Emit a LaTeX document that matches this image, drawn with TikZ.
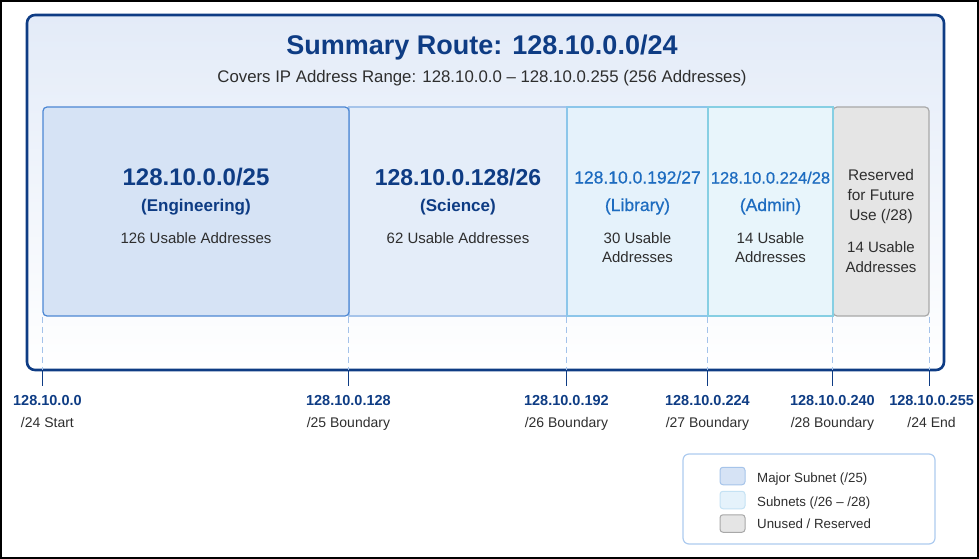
\documentclass[tikz,border=0pt]{standalone}
\usepackage{fontspec}
\setmainfont{Liberation Sans}
\newfontface\medfont[FakeBold=0.6]{Liberation Sans}
\usetikzlibrary{positioning}

\definecolor{navy}{HTML}{0E3C84}
\definecolor{sumtop}{HTML}{E3EBF8}
\definecolor{engfill}{HTML}{D6E3F5}
\definecolor{engline}{HTML}{4C87D4}
\definecolor{scifill}{HTML}{E4EDF9}
\definecolor{sciline}{HTML}{A6C4EA}
\definecolor{libfill}{HTML}{E5F2FB}
\definecolor{libline}{HTML}{8CC6EA}
\definecolor{admfill}{HTML}{E8F5FB}
\definecolor{admline}{HTML}{86CFE3}
\definecolor{resfill}{HTML}{E5E5E5}
\definecolor{resline}{HTML}{A8A8A8}
\definecolor{dashc}{HTML}{A3C2EA}
\definecolor{txtgray}{HTML}{2E2E2E}
\definecolor{libblue}{HTML}{1D6CC0}
\definecolor{legline}{HTML}{ADCBEF}

\tikzset{
  sumbox/.style={draw=navy, line width=2.6pt, rounded corners=8pt, top color=sumtop, bottom color=white, inner sep=0pt},
  blk/.style={inner sep=0pt, minimum height=209pt, line width=1.2pt},
  txt/.style={inner sep=0pt, anchor=base, align=center},
  headbig/.style={txt, text=navy, font=\bfseries\fontsize{#1}{#1}\selectfont},
  headsm/.style={txt, text=libblue, font=\medfont\fontsize{#1}{#1}\selectfont},
  usable/.style={txt, text=txtgray, font=\fontsize{15}{15}\selectfont},
  bdash/.style={dashc, line width=1pt, dash pattern=on 6pt off 4pt},
  tick/.style={navy, line width=1.6pt},
  addr/.style={txt, text=navy, font=\bfseries\fontsize{14.5}{14.5}\selectfont},
  bnd/.style={txt, text=txtgray, font=\fontsize{14}{14}\selectfont},
  swatch/.style={rounded corners=3pt, line width=1pt, minimum width=25pt, minimum height=17.5pt, inner sep=0pt},
  legtxt/.style={inner sep=0pt, anchor=base west, text=txtgray, font=\fontsize{13.3}{13.3}\selectfont}
}

\begin{document}
\begin{tikzpicture}[x=1pt, y=-1pt]
  \useasboundingbox (0,0) rectangle (979,559);
  \draw[black, line width=2pt] (1,1) rectangle (978,558);

  % summary route frame
  \node[sumbox, minimum width=917pt, minimum height=355pt] (sum) at (485.5,192.5) {};
  \node[txt, text=navy, font=\bfseries\fontsize{27}{27}\selectfont] (ttl) at (482,55) {Summary Route: 128.10.0.0/24};
  \node[txt, text=txtgray, font=\fontsize{16.8}{16.8}\selectfont] (rng) at (482,83) {Covers IP Address Range: 128.10.0.0 – 128.10.0.255 (256 Addresses)};

  % subnet blocks
  \node[blk, fill=scifill, draw=sciline, minimum width=218pt] (sci) at (458,211.5) {};
  \node[blk, fill=libfill, draw=libline, minimum width=141pt] (lib) at (637.5,211.5) {};
  \node[blk, fill=resfill, draw=resline, rounded corners=4pt, minimum width=96pt] (res) at (881,211.5) {};
  \node[blk, fill=admfill, draw=admline, minimum width=125pt] (adm) at (770.5,211.5) {};
  \node[blk, fill=engfill, draw=engline, rounded corners=4pt, minimum width=306pt] (eng) at (196,211.5) {};

  \node[headbig=24] (engh) at (eng.center |- 0,185) {128.10.0.0/25};
  \node[headbig=17] (engp) at (eng.center |- 0,211) {(Engineering)};
  \node[usable] (engu) at (eng.center |- 0,243) {126 Usable Addresses};

  \node[headbig=23] (scih) at (sci.center |- 0,185) {128.10.0.128/26};
  \node[headbig=17] (scip) at (sci.center |- 0,211) {(Science)};
  \node[usable] (sciu) at (sci.center |- 0,243) {62 Usable Addresses};

  \node[headsm=17.5] (libh) at (lib.center |- 0,183.5) {128.10.0.192/27};
  \node[headsm=17.5] (libp) at (lib.center |- 0,211) {(Library)};
  \node[usable] (libu) at (lib.center |- 0,243) {30 Usable};
  \node[usable] (liba) at (lib.center |- 0,262.7) {Addresses};

  \node[headsm=16.5] (admh) at (adm.center |- 0,183.5) {128.10.0.224/28};
  \node[headsm=17.5] (admp) at (adm.center |- 0,211) {(Admin)};
  \node[usable] (admu) at (adm.center |- 0,243) {14 Usable};
  \node[usable] (adma) at (adm.center |- 0,262.7) {Addresses};

  \node[usable, font=\fontsize{15.4}{15.4}\selectfont] (resr) at (res.center |- 0,180) {Reserved};
  \node[usable, font=\fontsize{15.4}{15.4}\selectfont] (resf) at (res.center |- 0,200) {for Future};
  \node[usable, font=\fontsize{15.4}{15.4}\selectfont] (resw) at (res.center |- 0,220) {Use (/28)};
  \node[usable] (resu) at (res.center |- 0,252.7) {14 Usable};
  \node[usable] (resa) at (res.center |- 0,272.7) {Addresses};

  % boundaries
  \foreach \pt/\nm/\dx/\ad/\lb in {eng.south west/b0/5/128.10.0.0/{/24 Start},
      sci.south west/b1/0/128.10.0.128/{/25 Boundary},
      lib.south west/b2/0/128.10.0.192/{/26 Boundary},
      adm.south west/b3/0/128.10.0.224/{/27 Boundary},
      res.south west/b4/0/128.10.0.240/{/28 Boundary},
      res.south east/b5/2/128.10.0.255/{/24 End}}
  {
    \draw[bdash] (\pt) -- ([yshift=1.3pt]\pt |- sum.south) coordinate (\nm);
    \draw[tick] (\pt |- sum.south) -- ++(0,15) coordinate (\nm t);
    \path (\nm t) ++(\dx,19) node[addr] (\nm a) {\ad} ++(0,22) node[bnd] (\nm l) {\lb};
  }

  % legend
  \node[draw=legline, line width=1.2pt, rounded corners=6pt, fill=white, minimum width=252pt, minimum height=90pt] (leg) at (809,499) {};
  \node[swatch, fill=engfill, draw=sciline] (sw1) at (732.5,476) {};
  \node[swatch, fill=libfill, draw=libline!50] (sw2) at (732.5,500) {};
  \node[swatch, fill=resfill, draw=resline] (sw3) at (732.5,523.5) {};
  \node[legtxt] (lt1) at (757,482.5) {Major Subnet (/25)};
  \node[legtxt] (lt2) at (757,506) {Subnets (/26 – /28)};
  \node[legtxt] (lt3) at (757,528.5) {Unused / Reserved};
\end{tikzpicture}
\end{document}
